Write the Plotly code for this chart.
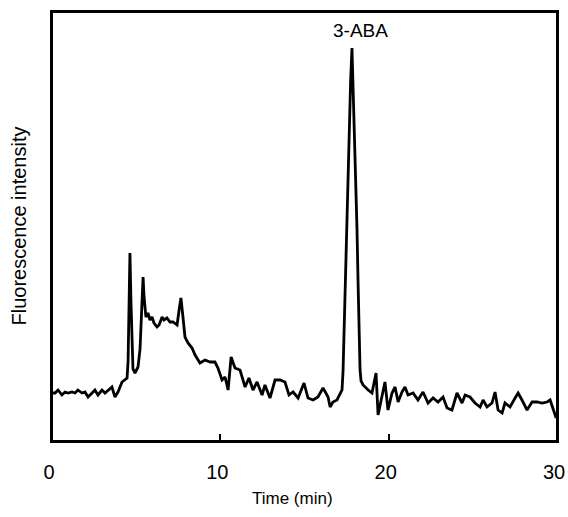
import plotly.graph_objects as go

# Retention time (min)
time_min = [
    0.00, 0.18, 0.36, 0.59, 0.77, 0.95, 1.19, 1.37, 1.54, 1.78, 1.96, 2.14, 2.38, 2.55,
    2.73, 2.97, 3.15, 3.33, 3.56, 3.74, 3.92, 4.16, 4.34, 4.46, 4.52, 4.57, 4.63, 4.69,
    4.75, 4.81, 4.93, 5.11, 5.23, 5.29, 5.41, 5.47, 5.58, 5.70, 5.82, 5.94, 6.06, 6.24, 6.36,
    6.54, 6.65, 6.83, 7.01, 7.19, 7.43, 7.55, 7.66, 7.78, 7.90, 8.08, 8.32, 8.50, 8.79,
    9.09, 9.39, 9.57, 9.68, 9.86, 10.10, 10.28, 10.46, 10.64, 10.87, 11.17, 11.47, 11.70,
    11.94, 12.18, 12.48, 12.65, 12.95, 13.25, 13.55, 13.84, 14.08, 14.32, 14.62, 14.97,
    15.21, 15.51, 15.80, 16.10, 16.40, 16.52, 16.69, 16.93, 17.23, 17.29, 17.35, 17.44,
    17.53, 17.59, 17.65, 17.74, 17.82, 17.88, 17.94, 18.03, 18.12, 18.18, 18.24, 18.30,
    18.36, 18.48, 18.78, 19.01, 19.07, 19.25, 19.37, 19.61,
    19.78, 19.96, 20.20, 20.38, 20.56, 20.79, 20.97, 21.15, 21.45, 21.74, 22.04, 22.34,
    22.64, 22.93, 23.23, 23.47, 23.76, 24.06, 24.36, 24.54, 24.83, 25.13, 25.43, 25.61,
    25.84, 26.14, 26.32, 26.50, 26.74, 26.91, 27.21, 27.51, 27.69, 27.92, 28.22, 28.52,
    28.81, 29.11, 29.41, 29.59, 29.77, 29.95,
]

# Fluorescence intensity (arbitrary units)
intensity = [
    48, 48, 51, 46, 49, 48, 49, 48, 51, 48, 49, 44, 48, 51,
    46, 51, 48, 51, 54, 44, 49, 59, 61, 63, 80, 140, 188, 140,
    90, 72, 68, 74, 92, 118, 164, 144, 124, 128, 121, 124, 118, 114, 116,
    124, 121, 123, 119, 119, 116, 131, 143, 124, 104, 98, 93, 86, 78,
    81, 79, 79, 79, 73, 61, 64, 51, 84, 73, 71, 54, 63,
    51, 59, 46, 56, 43, 61, 61, 59, 46, 49, 43, 58,
    43, 41, 44, 53, 44, 34, 39, 41, 51, 70, 111, 160,
    211, 260, 311, 360, 393, 360, 311, 260, 211, 160, 111, 71,
    60, 56, 51, 48, 53, 68, 26, 44,
    59, 31, 48, 54, 39, 49, 54, 46, 48, 41, 49, 38,
    43, 39, 44, 33, 31, 48, 38, 46, 44, 38, 34, 41,
    34, 38, 49, 31, 28, 38, 34, 43, 48, 41, 31, 39,
    39, 38, 39, 41, 31, 23,
]

x_ticks = [0, 10, 20, 30]
x_title = "Time (min)"
y_title = "Fluorescence intensity"
peak_label = "3-ABA"
peak_label_time = 18.3
peak_label_level = 411

FONT = "Liberation Sans, Arial, sans-serif"

fig = go.Figure()
fig.add_trace(go.Scatter(
    x=time_min, y=intensity, mode="lines",
    line=dict(color="black", width=2.8),
    showlegend=False, hoverinfo="skip",
))

fig.add_annotation(
    x=peak_label_time, y=peak_label_level, xref="x", yref="y",
    text=peak_label, showarrow=False,
    font=dict(family=FONT, size=19, color="black"),
)
# axis titles
fig.add_annotation(
    x=14.26, y=0, xref="x", yref="paper", yanchor="middle",
    yshift=-57, text=x_title, showarrow=False,
    font=dict(family=FONT, size=17, color="black"),
)
fig.add_annotation(
    x=0, y=0.5, xref="paper", yref="paper", xanchor="center",
    xshift=-34, text=y_title, textangle=-90, showarrow=False,
    font=dict(family=FONT, size=20, color="black"),
)

# plot frame
fig.add_shape(
    type="rect", xref="paper", yref="paper", x0=0, y0=0, x1=1, y1=1,
    line=dict(color="black", width=2), fillcolor="rgba(0,0,0,0)", layer="above",
)

fig.update_layout(
    width=568, height=517,
    margin=dict(l=52, r=11, t=12, b=76, autoexpand=False),
    plot_bgcolor="white", paper_bgcolor="white",
    font=dict(family=FONT, size=17, color="black"),
)

fig.update_xaxes(
    range=[0, 30], tickvals=x_ticks, ticktext=[str(v) for v in x_ticks],
    ticks="inside", ticklen=7, tickwidth=2, tickcolor="black",
    showline=True, linewidth=2, linecolor="black", mirror=True,
    showgrid=False, zeroline=False, automargin=False,
    tickfont=dict(family=FONT, size=20, color="black"),
    ticklabelstandoff=12, ticklabeloverflow="allow", ticklabelshift=-3,
)
fig.update_yaxes(
    range=[0, 429], showticklabels=False, ticks="",
    showline=True, linewidth=2, linecolor="black", mirror=True,
    showgrid=False, zeroline=False, automargin=False,
)

# remove the page's default body margin so the figure fills the window exactly
fig.write_html(
    "out.html",
    config={"displayModeBar": False},
    post_script="document.body.style.margin='0';document.body.style.overflow='hidden';",
)
